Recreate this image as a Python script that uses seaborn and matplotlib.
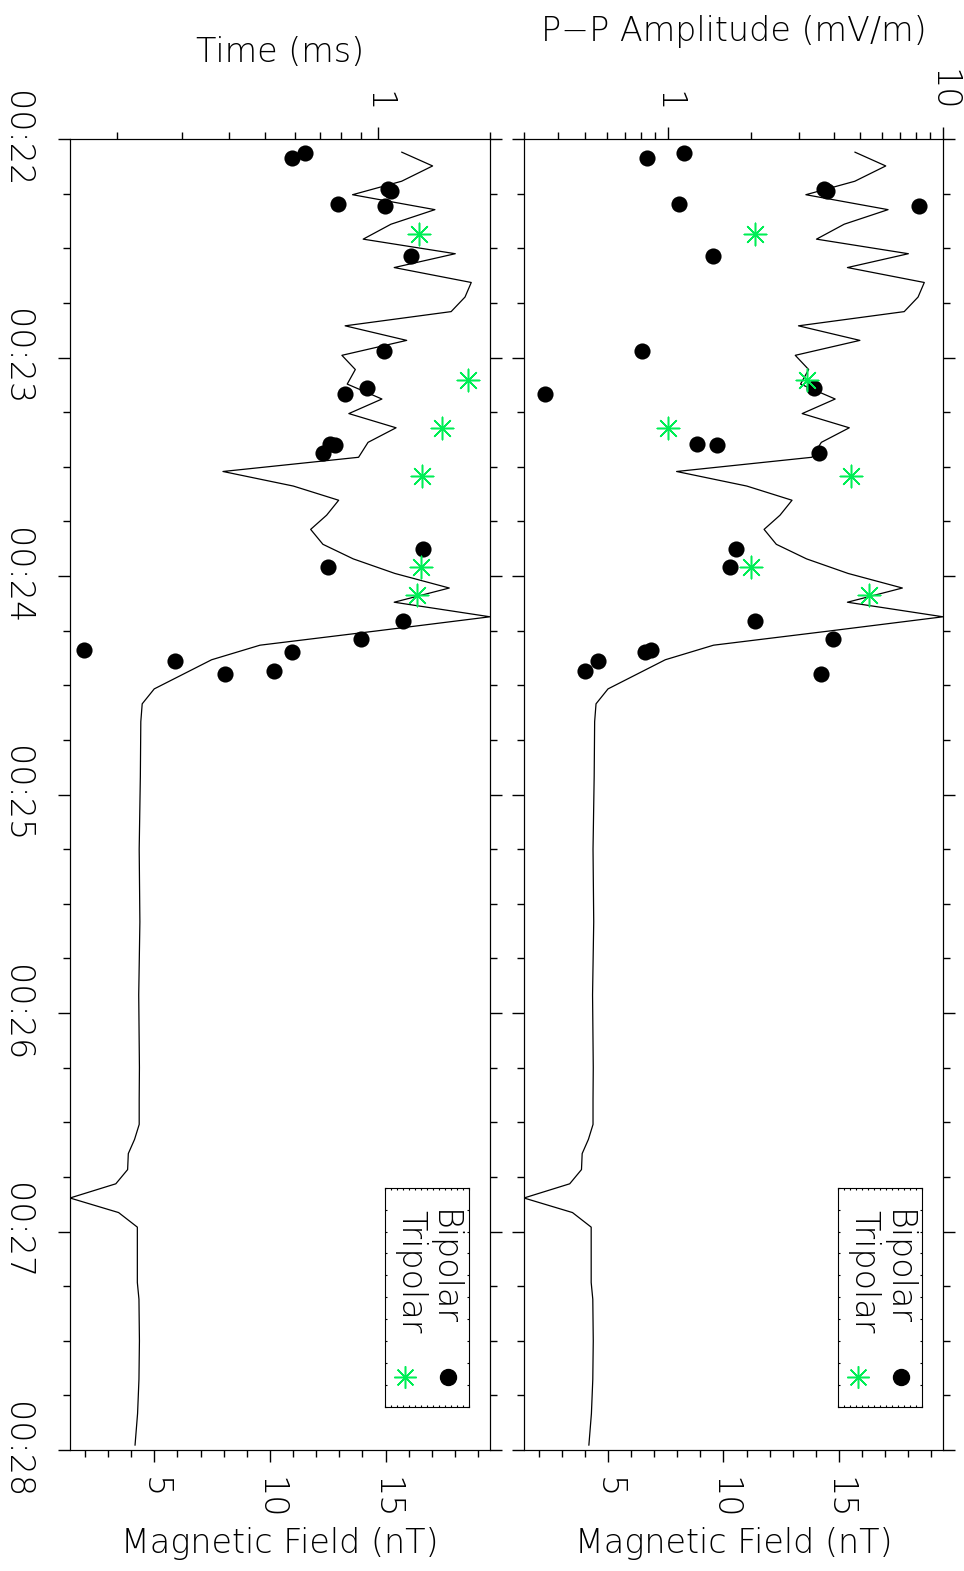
import numpy as np
import matplotlib
matplotlib.use("Agg")
import matplotlib.pyplot as plt
import seaborn as sns
from matplotlib.ticker import (LogLocator, MultipleLocator, FixedLocator,
                               FixedFormatter, NullFormatter, FuncFormatter)

# ---------------- data ----------------
# time in seconds after 00:22:00
b_time = [3.6, 7.4, 11.6, 15.3, 19.4, 23.4, 27.5, 31.5, 35.3, 39.4,
          43.4, 47.4, 51.3, 55.3, 59.4, 63.3, 67.3, 71.4, 75.4, 79.3,
          83.3, 87.4, 91.3, 95.3, 99.2, 103.3, 107.2, 111.3, 115.3, 119.3,
          123.3, 127.2, 131.2, 135.1, 139.0, 143.0, 147.0, 151.0, 155.1,
          160, 175, 195, 215, 235, 255,
          263.7, 270.6, 274.7, 278.6, 283.0, 286.9, 290.8, 294.8, 298.8,
          314.0, 318.6, 330, 340.6, 350, 358.7]
b_field = [15.69, 17.03, 15.69, 13.57, 17.13, 15.23, 14.03, 18.01, 15.37, 18.70,
           18.43, 17.83, 13.25, 15.91, 13.11, 13.69, 13.34, 14.84, 13.41, 15.45,
           14.24, 13.83, 7.97, 11.01, 12.97, 12.45, 11.76, 12.29, 13.60, 15.40,
           17.75, 15.37, 19.51, 14.59, 9.57, 7.48, 6.24, 5.00, 4.48,
           4.42, 4.40, 4.35, 4.38, 4.33, 4.36,
           4.35, 4.35, 4.15, 3.88, 3.85, 3.34, 1.36, 3.46, 4.27,
           4.27, 4.34, 4.36, 4.34, 4.28, 4.17]

bip_time = [3.9, 5.2, 13.7, 14.4, 17.9, 18.5, 32.0, 58.3, 68.3, 69.9, 83.7,
            84.0, 86.1, 112.6, 117.6, 132.3, 137.2, 140.4, 140.9, 143.3, 146.0, 147.0]
bip_duration = [0.640, 0.590, 1.068, 1.088, 0.783, 1.047, 1.229, 1.042, 0.937, 0.819, 0.745,
                0.770, 0.714, 1.323, 0.738, 1.170, 0.904, 0.164, 0.590, 0.286, 0.527, 0.391]
bip_amplitude = [1.143, 0.842, 3.683, 3.776, 1.099, 8.15, 1.455, 0.803, 3.40, 0.357, 1.276,
                 1.503, 3.553, 1.766, 1.684, 2.073, 3.97, 0.870, 0.828, 0.555, 0.498, 3.613]

tri_time = [26.1, 66.2, 79.3, 92.6, 117.6, 125.3]
tri_duration = [1.288, 1.743, 1.485, 1.312, 1.304, 1.278]
tri_amplitude = [2.068, 3.216, 1.00, 4.64, 2.012, 5.40]

time_ticks = [0, 60, 120, 180, 240, 300, 360]
time_tick_labels = ["00:22", "00:23", "00:24", "00:25", "00:26", "00:27", "00:28"]
field_ticks = [5, 10, 15]
series_labels = ["Bipolar", "Tripolar"]

# ---------------- style ----------------
sns.set_style("ticks", rc={"axes.edgecolor": "black", "xtick.color": "black",
                           "ytick.color": "black", "text.color": "black",
                           "axes.labelcolor": "black", "axes.linewidth": 1.0})
plt.rcParams["font.family"] = ["DejaVu Sans"]
plt.rcParams["font.weight"] = "light"
plt.rcParams["axes.labelweight"] = "light"
FS = 24
GREEN = "#00ee55"

W, H = 964, 1571
fig = plt.figure(figsize=(W / 100, H / 100), dpi=100)


def rect(x0, x1, y0, y1):
    return [x0 / W, 1 - y1 / H, (x1 - x0) / W, (y1 - y0) / H]


def panel(ax, top_bip, top_tri, top_lim, top_label, label_y, show_time_labels):
    sns.lineplot(x=b_field, y=b_time, sort=False, estimator=None,
                 color="black", linewidth=0.9, ax=ax)
    ax2 = ax.twiny()
    ax2.set_xscale("log")
    sns.scatterplot(x=top_bip, y=bip_time, ax=ax2, color="black", s=135,
                    marker="o", linewidth=0, edgecolor="black", zorder=3)
    sns.scatterplot(x=top_tri, y=tri_time, ax=ax2, color=GREEN, s=260,
                    marker=(8, 2, 0), linewidth=1.1, zorder=3)

    ax.set_xlim(min(b_field), max(b_field))
    ax2.set_xlim(*top_lim)
    ax.set_ylim(360, 0)

    # time axis
    ax.yaxis.set_major_locator(FixedLocator(time_ticks))
    ax.yaxis.set_major_formatter(FixedFormatter(time_tick_labels))
    ax.yaxis.set_minor_locator(MultipleLocator(15))
    ax.tick_params(axis="y", which="both", left=True, right=True, direction="out", width=1)
    ax.tick_params(axis="y", which="major", length=8.6, pad=18, labelsize=FS,
                   labelrotation=-90, labelleft=show_time_labels)
    ax.tick_params(axis="y", which="minor", length=5)
    plt.setp(ax.get_yticklabels(), va="center")

    # magnetic field axis
    ax.xaxis.set_major_locator(FixedLocator(field_ticks))
    ax.xaxis.set_minor_locator(MultipleLocator(1))
    ax.tick_params(axis="x", which="both", bottom=True, top=False, direction="out", width=1)
    ax.tick_params(axis="x", which="major", length=8.6, pad=11, labelsize=FS,
                   labelrotation=-90)
    ax.tick_params(axis="x", which="minor", length=5)
    ax.set_xlabel("Magnetic Field (nT)", fontsize=FS, fontweight="light")
    ax.xaxis.set_label_coords(0.5, -0.0717)
    ax.xaxis.label.set_va("center")
    ax.set_ylabel("")

    # log axis on top
    ax2.xaxis.set_major_locator(LogLocator(base=10))
    ax2.xaxis.set_minor_locator(LogLocator(base=10, subs=np.arange(2, 10)))
    ax2.xaxis.set_major_formatter(FuncFormatter(lambda v, p: f"{v:g}"))
    ax2.xaxis.set_minor_formatter(NullFormatter())
    ax2.tick_params(axis="x", which="both", direction="out", width=1)
    ax2.tick_params(axis="x", which="major", length=8.6, pad=11, labelsize=FS,
                    labelrotation=-90)
    ax2.tick_params(axis="x", which="minor", length=5)
    ax2.set_xlabel(top_label, fontsize=FS, fontweight="light")
    ax2.xaxis.set_label_coords(0.5, label_y)
    ax2.xaxis.label.set_va("center")
    ax2.set_ylabel("")

    # legend box
    leg = ax2.inset_axes([0.75, 0.033, 0.2, 0.167])
    leg.set_xlim(0, 1)
    leg.set_ylim(0, 1)
    leg.set_xticks(np.linspace(0, 1, 15))
    leg.set_yticks(np.linspace(0, 1, 11))
    leg.tick_params(direction="in", length=1.6, width=0.8, top=True, right=True,
                    labelbottom=False, labelleft=False)
    leg.plot([0.75], [0.136], marker="o", ms=11.5, color="black", ls="none")
    leg.plot([0.24], [0.136], marker=(8, 2, 0), ms=16, mew=1.1, color=GREEN, ls="none")
    leg.text(0.70, 0.898, series_labels[0], rotation=-90, rotation_mode="anchor",
             ha="left", va="center", fontsize=FS, fontweight="light")
    leg.text(0.305, 0.898, series_labels[1], rotation=-90, rotation_mode="anchor",
             ha="left", va="center", fontsize=FS, fontweight="light")
    return ax2


ax_l = fig.add_axes(rect(70, 490, 139, 1450))
ax_r = fig.add_axes(rect(524, 943, 139, 1450))

panel(ax_l, bip_duration, tri_duration, (0.15, 2.0), "Time (ms)", 1.0656, True)
panel(ax_r, bip_amplitude, tri_amplitude, (0.3, 10.0), "P\u2212P Amplitude (mV/m)", 1.082, False)

fig.savefig("out.png", dpi=100)
